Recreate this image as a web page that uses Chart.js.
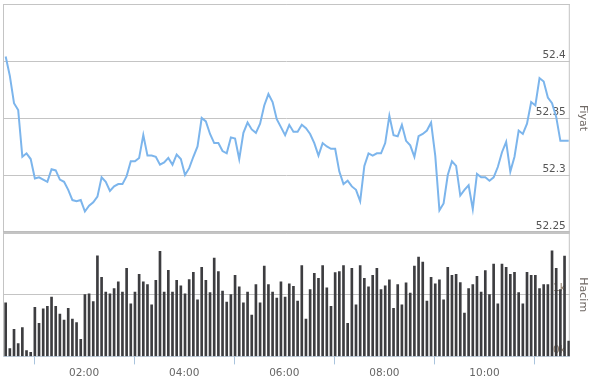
<!DOCTYPE html>
<html>
<head>
<meta charset="utf-8">
<script src="https://cdn.jsdelivr.net/npm/chart.js@4"></script>
<style>
  body { margin: 0; background: #fff; }
  #wrap { position: relative; width: 595px; height: 382px; }
  #priceBox { position: absolute; left: 0; top: 0; width: 595px; height: 234px; }
  #volBox { position: absolute; left: 0; top: 232px; width: 595px; height: 150px; }
</style>
</head>
<body>
<div id="wrap">
  <div id="priceBox"><canvas id="priceChart"></canvas></div>
  <div id="volBox"><canvas id="volChart"></canvas></div>
</div>
<script>
// 5 dakikalık veriler, ilk nokta 00:26
const startMinute = 26;
const stepMinutes = 5;

const prices = [
  52.404, 52.387, 52.363, 52.357, 52.316, 52.319, 52.314, 52.297, 52.298, 52.296,
  52.294, 52.305, 52.304, 52.296, 52.294, 52.287, 52.278, 52.277, 52.278, 52.268,
  52.273, 52.276, 52.281, 52.298, 52.294, 52.286, 52.290, 52.292, 52.292, 52.299,
  52.312, 52.312, 52.315, 52.335, 52.317, 52.317, 52.316, 52.309, 52.311, 52.315,
  52.309, 52.318, 52.314, 52.300, 52.306, 52.316, 52.325, 52.350, 52.347, 52.336,
  52.328, 52.328, 52.321, 52.319, 52.333, 52.332, 52.314, 52.337, 52.346, 52.340,
  52.337, 52.345, 52.361, 52.371, 52.364, 52.349, 52.342, 52.335, 52.344, 52.338,
  52.338, 52.344, 52.341, 52.336, 52.328, 52.317, 52.328, 52.325, 52.323, 52.323,
  52.303, 52.292, 52.295, 52.290, 52.287, 52.277, 52.308, 52.319, 52.317, 52.319,
  52.319, 52.328, 52.352, 52.335, 52.334, 52.344, 52.330, 52.326, 52.316, 52.334,
  52.336, 52.339, 52.346, 52.317, 52.269, 52.275, 52.300, 52.312, 52.308, 52.282,
  52.287, 52.291, 52.270, 52.301, 52.298, 52.298, 52.295, 52.298, 52.307, 52.320,
  52.329, 52.303, 52.316, 52.339, 52.336, 52.345, 52.364, 52.361, 52.385, 52.382,
  52.368, 52.363, 52.351, 52.330, 52.330, 52.330
];

const volumes = [
  868, 126, 440, 209, 467, 93, 66, 797, 538, 769,
  813, 962, 813, 687, 588, 780, 604, 549, 275, 1000,
  1016, 890, 1632, 1280, 1044, 1016, 1099, 1209, 1044, 1429,
  852, 1044, 1330, 1209, 1165, 835, 1231, 1703, 1044, 1396,
  1044, 1231, 1143, 1016, 1247, 1363, 918, 1445, 1231, 1033,
  1593, 1374, 1060, 879, 1000, 1313, 1126, 868, 1044, 670,
  1165, 868, 1462, 1165, 1044, 945, 1209, 962, 1176, 1135,
  896, 1473, 604, 1082, 1346, 1264, 1473, 1110, 813, 1357,
  1374, 1473, 538, 1429, 835, 1473, 1264, 1126, 1313, 1429,
  1082, 1143, 1242, 780, 1165, 835, 1192, 1027, 1462, 1610,
  1527, 896, 1280, 1176, 1242, 918, 1445, 1313, 1330, 1198,
  703, 1099, 1165, 1297, 1044, 1390, 1000, 1495, 852, 1495,
  1445, 1330, 1363, 1033, 852, 1363, 1313, 1313, 1099, 1165,
  1165, 1709, 1429, 1082, 1626, 247
];

const priceTicks = [52.25, 52.3, 52.35, 52.4, 52.45];
const xMin = 22.8;
const xMax = 702.3;

const times = prices.map((_, i) => startMinute + i * stepMinutes);

const fontFamily = "'DejaVu Sans', Verdana, sans-serif";

// plot alanının çerçevesi
const framePlugin = {
  id: 'frame',
  beforeDraw(chart, args, opts) {
    const a = chart.chartArea;
    const ctx = chart.ctx;
    ctx.save();
    ctx.strokeStyle = '#c4c4c4';
    ctx.lineWidth = 1;
    ctx.beginPath();
    ctx.moveTo(a.left + 0.5, a.bottom);
    ctx.lineTo(a.left + 0.5, a.top + 0.5);
    ctx.lineTo(a.right - 0.5, a.top + 0.5);
    ctx.lineTo(a.right - 0.5, a.bottom);
    ctx.stroke();
    if (opts.thickBottom) {
      ctx.lineWidth = 2;
      ctx.strokeStyle = '#bdbdbd';
      ctx.beginPath();
      ctx.moveTo(a.left, a.bottom);
      ctx.lineTo(a.right, a.bottom);
      ctx.stroke();
    }
    ctx.restore();
  }
};

function rightTitle(text) {
  return {
    display: true,
    text: text,
    color: '#716a66',
    font: { family: fontFamily, size: 11 },
    padding: { top: 6, bottom: 14 }
  };
}

// mirror etiketler plot alanını küçültmesin
function noLabelPadding(scale) {
  scale.paddingTop = 0;
  scale.paddingBottom = 0;
}

new Chart(document.getElementById('priceChart'), {
  type: 'line',
  data: {
    datasets: [{
      data: prices.map((p, i) => ({ x: times[i], y: p })),
      borderColor: '#7cb5ec',
      borderWidth: 2,
      pointRadius: 0,
      tension: 0,
      fill: false
    }]
  },
  options: {
    responsive: true,
    maintainAspectRatio: false,
    animation: false,
    layout: { padding: { top: 4, left: 3, bottom: 2, right: 0 } },
    plugins: {
      legend: { display: false },
      tooltip: { enabled: false },
      frame: { thickBottom: true }
    },
    scales: {
      x: { type: 'linear', min: xMin, max: xMax, display: false },
      y: {
        position: 'right',
        min: 52.25,
        max: 52.45,
        afterBuildTicks: (scale) => {
          scale.ticks = priceTicks.map(v => ({ value: v }));
        },
        afterFit: noLabelPadding,
        ticks: {
          mirror: true,
          padding: -4,
          labelOffset: -6,
          color: '#555',
          font: { family: fontFamily, size: 10.5 },
          callback: (v) => v > 52.44 ? '' : String(Math.round(v * 100) / 100)
        },
        grid: { color: '#c4c4c4', drawTicks: false },
        border: { display: false },
        title: rightTitle('Fiyat')
      }
    }
  },
  plugins: [framePlugin]
});

new Chart(document.getElementById('volChart'), {
  type: 'bar',
  data: {
    datasets: [{
      data: volumes.map((v, i) => ({ x: times[i], y: v })),
      backgroundColor: '#3d3d40',
      barThickness: 2
    }]
  },
  options: {
    responsive: true,
    maintainAspectRatio: false,
    animation: false,
    layout: { padding: { top: 1, left: 3, bottom: -1, right: 0 } },
    plugins: {
      legend: { display: false },
      tooltip: { enabled: false },
      frame: {}
    },
    scales: {
      x: {
        type: 'linear',
        min: xMin,
        max: xMax,
        offset: false,
        ticks: {
          stepSize: 120,
          includeBounds: false,
          padding: 3,
          color: '#666',
          font: { family: fontFamily, size: 10.5 },
          callback: (v) => String(Math.floor(v / 60)).padStart(2, '0') + ':00'
        },
        grid: { drawOnChartArea: false, drawTicks: true, tickLength: 8, color: '#a9c4dd' },
        border: { color: '#c3d2e0' }
      },
      y: {
        position: 'right',
        min: 0,
        max: 2000,
        afterFit: noLabelPadding,
        ticks: {
          stepSize: 1000,
          mirror: true,
          padding: -4,
          labelOffset: -6,
          color: '#8d7a66',
          font: { family: fontFamily, size: 10.5 },
          callback: (v) => v >= 2000 ? '' : (v / 1000) + 'k'
        },
        grid: { color: '#c4c4c4', drawTicks: false },
        border: { display: false },
        title: rightTitle('Hacim')
      }
    }
  },
  plugins: [framePlugin]
});
</script>
</body>
</html>
